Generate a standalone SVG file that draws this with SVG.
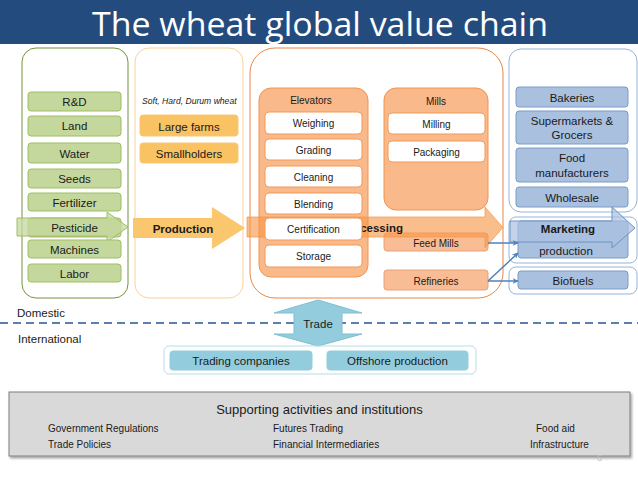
<svg xmlns="http://www.w3.org/2000/svg" width="638" height="479" viewBox="0 0 638 479">
<defs>
<style>
text{font-family:"Liberation Sans",Arial,sans-serif;fill:#1a1a1a;}
.t11{font-size:11.5px;text-anchor:middle;dominant-baseline:central;}
.t10{font-size:10px;text-anchor:middle;dominant-baseline:central;}
.b{font-weight:bold;}
.g{fill:#C4D89E;stroke:#9FBE63;stroke-width:1;}
.y{fill:#F9C263;stroke:#F7C87A;stroke-width:1;}
.w{fill:#ffffff;stroke:#F39A56;stroke-width:1;}
.og{fill:#F9B98A;stroke:#F2944F;stroke-width:1;}
.ob{fill:#F9BD96;stroke:#E8A07A;stroke-width:1;}
.bl{fill:#A9C0DF;stroke:#7A9CC9;stroke-width:1;}
.tq{fill:#93CDDD;stroke:#93CDDD;stroke-width:1;}
.c{stroke:#4F81BD;stroke-width:1.5;fill:none;marker-end:url(#ah);}
.sm{font-size:10px;}
</style>
<marker id="ah" viewBox="0 0 10 10" refX="9" refY="5" markerWidth="6" markerHeight="6" orient="auto" markerUnits="userSpaceOnUse">
<path d="M0,0 L10,5 L0,10 L3,5 Z" fill="#4F81BD"/>
</marker>
<filter id="sh" x="-5%" y="-10%" width="110%" height="130%">
<feDropShadow dx="1.5" dy="2" stdDeviation="1.2" flood-color="#000" flood-opacity="0.35"/>
</filter>
</defs>
<rect width="638" height="479" fill="#ffffff"/>
<g id="title">
<rect x="0" y="0" width="638" height="44" fill="#234B7E"/>
<text x="320" y="36" text-anchor="middle" font-family="'Open Sans',sans-serif" font-size="33" fill="#ffffff" style="fill:#ffffff;font-family:'Open Sans',sans-serif" textLength="456" lengthAdjust="spacingAndGlyphs">The wheat global value chain</text>
</g>

<g id="inputs">
<rect x="22" y="48" width="106" height="250" rx="14" fill="none" stroke="#77933C" stroke-width="1"/>
<rect class="g" x="28" y="92" width="93" height="19" rx="3"/><text class="t11" x="74.5" y="102">R&amp;D</text>
<rect class="g" x="28" y="116" width="93" height="20" rx="3"/><text class="t11" x="74.5" y="126">Land</text>
<rect class="g" x="28" y="143" width="93" height="20" rx="3"/><text class="t11" x="74.5" y="153.5">Water</text>
<rect class="g" x="28" y="169" width="93" height="19" rx="3"/><text class="t11" x="74.5" y="179">Seeds</text>
<rect class="g" x="28" y="193" width="93" height="18" rx="3"/><text class="t11" x="74.5" y="202.5">Fertilizer</text>
<rect class="g" x="28" y="218" width="93" height="19" rx="3"/>
<polygon points="17,218 107,218 107,212 128,227 107,242 107,236 17,236" fill="#C4D89E" fill-opacity="0.75" stroke="#9FBE63" stroke-width="1"/>
<text class="t11" x="74.5" y="227.5">Pesticide</text>
<rect class="g" x="28" y="240" width="93" height="18" rx="3"/><text class="t11" x="74.5" y="249.5">Machines</text>
<rect class="g" x="28" y="264" width="93" height="18" rx="3"/><text class="t11" x="74.5" y="273.5">Labor</text>
</g>

<g id="production">
<rect x="135" y="48" width="108" height="250" rx="14" fill="none" stroke="#F8D39A" stroke-width="1"/>
<text x="142" y="104" font-size="8.6" font-style="italic">Soft, Hard, Durum wheat</text>
<rect class="y" x="140" y="115" width="98" height="21" rx="3"/><text class="t11" x="189" y="126.5">Large farms</text>
<rect class="y" x="140" y="143" width="98" height="20" rx="3"/><text class="t11" x="189" y="153.5">Smallholders</text>
<polygon points="133,218 212,218 212,207 245,228 212,249 212,238 133,238" fill="#FAC66E"/>
<text class="t11 b" x="183" y="228.5">Production</text>
</g>

<g id="processing">
<rect x="250" y="48" width="253" height="250" rx="25" fill="none" stroke="#E8874A" stroke-width="1"/>
<rect class="og" x="259" y="88" width="109" height="189" rx="12"/>
<text class="t10" x="311" y="100.5">Elevators</text>
<rect class="og" x="384" y="88" width="104" height="122" rx="12"/>
<text class="t10" x="436" y="101">Mills</text>
<rect class="w" x="388" y="113" width="97" height="21" rx="4"/><text class="t10" x="436.5" y="124">Milling</text>
<rect class="w" x="388" y="141" width="97" height="21" rx="4"/><text class="t10" x="436.5" y="152">Packaging</text>
<rect class="ob" x="384" y="233" width="104" height="18" rx="3"/><text class="t10" x="436" y="243.5">Feed Mills</text>
<rect class="ob" x="384" y="270" width="104" height="20" rx="3"/><text class="t10" x="436" y="281">Refineries</text>
<polygon points="247,217 485,217 485,207 503,227.5 485,248 485,237 247,237" fill="#F79646" fill-opacity="0.62" stroke="#F79646" stroke-opacity="0.7" stroke-width="1"/>
<text class="t11 b" x="372" y="228">Processing</text>
<rect class="w" x="265" y="112" width="97" height="22" rx="4"/><text class="t10" x="313.5" y="123.5">Weighing</text>
<rect class="w" x="265" y="139" width="97" height="21" rx="4"/><text class="t10" x="313.5" y="150">Grading</text>
<rect class="w" x="265" y="166" width="97" height="21" rx="4"/><text class="t10" x="313.5" y="177">Cleaning</text>
<rect class="w" x="265" y="193" width="97" height="21" rx="4"/><text class="t10" x="313.5" y="204">Blending</text>
<rect class="w" x="265" y="218" width="97" height="22" rx="4"/><text class="t10" x="313.5" y="229.5">Certification</text>
<rect class="w" x="265" y="245" width="97" height="22" rx="4"/><text class="t10" x="313.5" y="256.5">Storage</text>
</g>

<g id="marketing">
<rect x="509" y="49" width="128" height="163" rx="12" fill="none" stroke="#95B3D7" stroke-width="1"/>
<rect class="bl" x="516" y="87" width="112" height="20" rx="3"/><text class="t11" x="572" y="97.5">Bakeries</text>
<rect class="bl" x="516" y="111" width="112" height="33" rx="3"/><text class="t11" x="572" y="121">Supermarkets &amp;</text><text class="t11" x="572" y="135">Grocers</text>
<rect class="bl" x="516" y="148" width="112" height="34" rx="3"/><text class="t11" x="572" y="158">Food</text><text class="t11" x="572" y="172.5">manufacturers</text>
<rect class="bl" x="516" y="187" width="112" height="20" rx="3"/><text class="t11" x="572" y="197.5">Wholesale</text>
<rect x="509" y="217" width="128" height="46" rx="7" fill="none" stroke="#95B3D7" stroke-width="1"/>
<rect class="bl" x="518" y="221" width="110" height="37" rx="3"/>
<polygon points="510,221 612,221 612,207 635,228 612,248 612,242 510,242" fill="#A9C0DF" fill-opacity="0.7" stroke="#6F93C6" stroke-width="1"/>
<text class="t11 b" x="568" y="229">Marketing</text>
<text class="t11" x="566" y="250.5">production</text>
<rect x="509" y="267" width="128" height="27" rx="7" fill="none" stroke="#95B3D7" stroke-width="1"/>
<rect class="bl" x="518" y="271" width="110" height="18" rx="3"/><text class="t11" x="573" y="280.5">Biofuels</text>
</g>

<g id="connectors">
<line class="c" x1="488" y1="243" x2="518" y2="243"/>
<line class="c" x1="488" y1="281" x2="518" y2="253"/>
<line class="c" x1="488" y1="281" x2="518" y2="281"/>
</g>

<g id="border">
<line x1="0" y1="323" x2="638" y2="323" stroke="#5A7EAE" stroke-width="2" stroke-dasharray="8,5"/>
<text x="17" y="317" font-size="11.5">Domestic</text>
<text x="18" y="343" font-size="11.5">International</text>
</g>

<g id="trade">
<polygon points="318,300 362,313 342,313 342,334 362,334 318,346 274,334 294,334 294,313 274,313" fill="#93CDDD" stroke="#7FBFD1" stroke-width="1"/>
<text class="t11" x="318" y="323.5">Trade</text>
</g>

<g id="international">
<rect x="164" y="346" width="312" height="28" rx="5" fill="none" stroke="#B7DDE8" stroke-width="1"/>
<rect class="tq" x="170" y="351" width="142" height="19" rx="3"/><text class="t11" x="241" y="360.5">Trading companies</text>
<rect class="tq" x="327" y="351" width="141" height="19" rx="3"/><text class="t11" x="397.5" y="360.5">Offshore production</text>
</g>

<g id="support">
<rect x="9" y="392" width="621" height="64" fill="#D9D9D9" stroke="#7F7F7F" stroke-width="1" filter="url(#sh)"/>
<text x="319.5" y="413.5" font-size="13" text-anchor="middle">Supporting activities and institutions</text>
<text class="sm" x="48" y="432">Government Regulations</text>
<text class="sm" x="48" y="448">Trade Policies</text>
<text class="sm" x="273" y="432">Futures Trading</text>
<text class="sm" x="273" y="448">Financial Intermediaries</text>
<text class="sm" x="536" y="432">Food aid</text>
<text class="sm" x="530" y="448">Infrastructure</text>
</g>
<text x="597" y="461" font-size="9" style="fill:#BFBFBF">6</text>
</svg>
